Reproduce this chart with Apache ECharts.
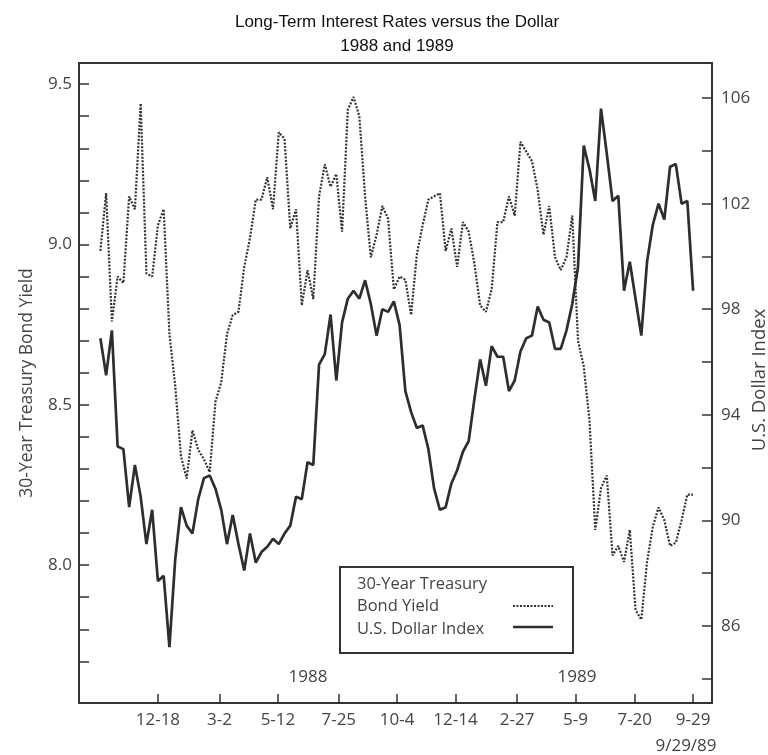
<!DOCTYPE html>
<html><head><meta charset="utf-8">
<script src="https://cdn.jsdelivr.net/npm/echarts@6/dist/echarts.min.js"></script>
<style>html,body{margin:0;padding:0;background:#fff}#c{width:768px;height:755px}</style>
</head><body><div id="c"></div>
<script>
// ---- data ----
const refDate = '1987-12-18';          // day 0 of the x scale
const firstWeek = '1987-10-09';        // first weekly observation
const weekStep = 7;
const bondYield = [8.98,9.16,8.76,8.90,8.88,9.15,9.11,9.44,8.91,8.90,
  9.06,9.11,8.72,8.56,8.34,8.27,8.42,8.36,8.33,8.29,
  8.51,8.57,8.72,8.78,8.79,8.93,9.02,9.14,9.14,9.21,
  9.11,9.35,9.33,9.05,9.11,8.81,8.92,8.83,9.15,9.25,
  9.18,9.22,9.04,9.42,9.46,9.40,9.15,8.96,9.03,9.12,
  9.08,8.86,8.90,8.89,8.78,8.97,9.06,9.14,9.15,9.16,
  8.98,9.05,8.93,9.07,9.04,8.94,8.81,8.79,8.86,9.07,
  9.07,9.15,9.09,9.32,9.29,9.26,9.17,9.03,9.12,8.96,
  8.92,8.96,9.09,8.70,8.62,8.45,8.11,8.24,8.28,8.03,
  8.06,8.01,8.11,7.86,7.83,8.01,8.12,8.18,8.14,8.06,
  8.07,8.14,8.22,8.22];
const dollarIndex = [96.9,95.5,97.2,92.8,92.7,90.5,92.1,90.9,89.1,90.4,
  87.7,87.9,85.2,88.5,90.5,89.8,89.5,90.8,91.6,91.7,
  91.2,90.4,89.1,90.2,89.1,88.1,89.5,88.4,88.8,89.0,
  89.3,89.1,89.5,89.8,90.9,90.8,92.2,92.1,95.9,96.3,
  97.8,95.3,97.5,98.4,98.7,98.4,99.1,98.2,97.0,98.0,
  97.9,98.3,97.4,94.9,94.1,93.5,93.6,92.7,91.2,90.4,
  90.5,91.4,91.9,92.6,93.0,94.6,96.1,95.1,96.6,96.2,
  96.2,94.9,95.3,96.4,96.9,97.0,98.1,97.6,97.5,96.5,
  96.5,97.2,98.2,99.6,104.2,103.3,102.1,105.6,103.9,102.1,
  102.3,98.7,99.8,98.4,97.0,99.8,101.2,102.0,101.4,103.4,
  103.5,102.0,102.1,98.7];
const tickDates = ['1987-12-18','1988-03-02','1988-05-12','1988-07-25','1988-10-04',
  '1988-12-14','1989-02-27','1989-05-09','1989-07-20','1989-09-29'];
const tickLabels = ['12-18','3-2','5-12','7-25','10-4','12-14','2-27','5-9','7-20','9-29'];
const xRange = ['1987-09-13','1989-10-22'];
const leftTicks = [7.7,7.8,7.9,8.0,8.1,8.2,8.3,8.4,8.5,8.6,8.7,8.8,8.9,9.0,9.1,9.2,9.3,9.4,9.5];
const leftLabels = [8.0,8.5,9.0,9.5];
const rightTicks = [84,86,88,90,92,94,96,98,100,102,104,106];
const rightLabels = [86,90,94,98,102,106];
const leftRange = [7.57, 9.566];
const rightRange = [83.08, 107.33];

// ---- helpers ----
function dayOf(s){const p=s.split('-').map(Number);const r=refDate.split('-').map(Number);
  return (Date.UTC(p[0],p[1]-1,p[2])-Date.UTC(r[0],r[1]-1,r[2]))/86400000;}
const d0 = dayOf(firstWeek);
const tickDays = tickDates.map(dayOf);
const bondData = bondYield.map((v,i)=>[d0+weekStep*i, v]);
const dollarData = dollarIndex.map((v,i)=>[d0+weekStep*i, v]);

const FONT = '"Open Sans", "DejaVu Sans", sans-serif';
const AX = '#333';
const TXT = '#444';

const chart = echarts.init(document.getElementById('c'));
chart.setOption({
  animation:false,
  backgroundColor:'#fff',
  title:{
    text:'Long-Term Interest Rates versus the Dollar\n1988 and 1989',
    left:392, top:5, textAlign:'center',
    textStyle:{fontFamily:'"Liberation Sans", Arial, sans-serif',fontSize:17,fontWeight:'normal',color:'#111',lineHeight:24}
  },
  grid:{left:79,right:56,top:63,bottom:52,show:true,borderColor:AX,borderWidth:2,backgroundColor:'transparent',
    outerBoundsMode:'none',containLabel:false},
  xAxis:{
    type:'value', min:dayOf(xRange[0]), max:dayOf(xRange[1]),
    axisLine:{onZero:false,lineStyle:{color:AX,width:2}},
    axisTick:{inside:true,length:9,lineStyle:{color:AX,width:1.5},customValues:tickDays},
    axisLabel:{customValues:tickDays,margin:9,fontFamily:FONT,fontSize:17,color:TXT,
      formatter:v=>{const k=tickDays.findIndex(d=>Math.abs(d-v)<0.5);return k>=0?tickLabels[k]:'';}},
    splitLine:{show:false}
  },
  yAxis:[{
    type:'value', position:'left', min:leftRange[0], max:leftRange[1],
    name:'30-Year Treasury Bond Yield', nameLocation:'middle', nameGap:43, nameRotate:90,
    nameTextStyle:{fontFamily:FONT,fontSize:17.5,color:TXT},
    axisLine:{show:true,onZero:false,lineStyle:{color:AX,width:2}},
    axisTick:{show:true,inside:true,length:10,lineStyle:{color:AX,width:1.5},customValues:leftTicks},
    axisLabel:{customValues:leftLabels,margin:7,fontFamily:FONT,fontSize:17,color:TXT,formatter:v=>v.toFixed(1)},
    splitLine:{show:false}
  },{
    type:'value', position:'right', min:rightRange[0], max:rightRange[1],
    axisLine:{show:true,onZero:false,lineStyle:{color:AX,width:2}},
    axisTick:{show:true,inside:true,length:10,lineStyle:{color:AX,width:1.5},customValues:rightTicks},
    axisLabel:{customValues:rightLabels,margin:9,fontFamily:FONT,fontSize:17,color:TXT,formatter:v=>String(Math.round(v))},
    splitLine:{show:false}
  }],
  series:[{
    name:'30-Year Treasury Bond Yield', type:'line', yAxisIndex:0, data:bondData,
    showSymbol:false, symbol:'none',
    lineStyle:{color:'#333',width:2.2,type:[2,1.5]}
  },{
    name:'U.S. Dollar Index', type:'line', yAxisIndex:1, data:dollarData,
    showSymbol:false, symbol:'none',
    lineStyle:{color:'#2e2e2e',width:2.7}
  }],
  graphic:[
    {type:'text',x:760,y:380,rotation:Math.PI/2,
      style:{text:'U.S. Dollar Index',fontFamily:FONT,fontSize:18.5,fill:TXT,textAlign:'center',textVerticalAlign:'middle'},z:10},
    {type:'text',x:308,y:669,style:{text:'1988',fontFamily:FONT,fontSize:17,fill:TXT,textAlign:'center'},z:10},
    {type:'text',x:577,y:669,style:{text:'1989',fontFamily:FONT,fontSize:17,fill:TXT,textAlign:'center'},z:10},
    {type:'text',x:686,y:738,style:{text:'9/29/89',fontFamily:FONT,fontSize:17,fill:TXT,textAlign:'center'},z:10},
    {type:'rect',shape:{x:340,y:567,width:233,height:86},style:{fill:'#fff',stroke:AX,lineWidth:2},z:20},
    {type:'text',x:357,y:576,style:{text:'30-Year Treasury',fontFamily:FONT,fontSize:16.5,fill:TXT},z:21},
    {type:'text',x:357,y:598,style:{text:'Bond Yield',fontFamily:FONT,fontSize:16.5,fill:TXT},z:21},
    {type:'text',x:357,y:621,style:{text:'U.S. Dollar Index',fontFamily:FONT,fontSize:16.5,fill:TXT},z:21},
    {type:'line',shape:{x1:513,y1:606,x2:553,y2:606},style:{stroke:'#333',lineWidth:2.2,lineDash:[2,1.5]},z:21},
    {type:'line',shape:{x1:513,y1:627,x2:553,y2:627},style:{stroke:'#2e2e2e',lineWidth:2.7},z:21}
  ]
});
</script></body></html>
